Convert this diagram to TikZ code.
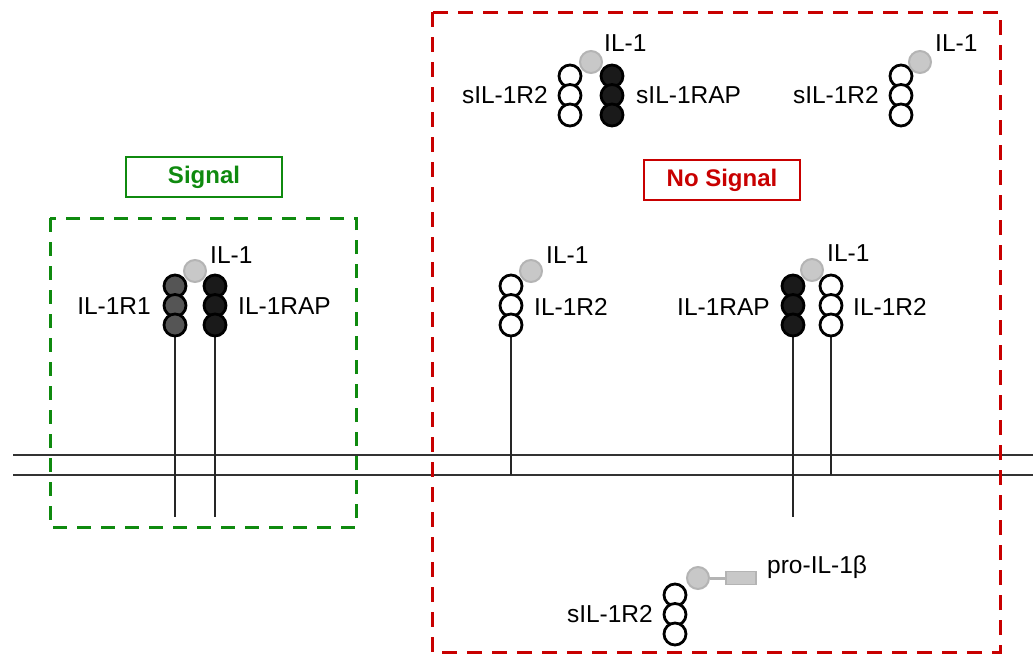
\documentclass[tikz,border=0pt]{standalone}
\usepackage{fontspec}
\setmainfont{Liberation Sans}

\definecolor{sigGreen}{HTML}{0F8A0F}
\definecolor{noRed}{HTML}{C80000}
\definecolor{domGray}{HTML}{555555}
\definecolor{domBlack}{HTML}{1A1A1A}
\definecolor{ligFill}{HTML}{C8C8C8}
\definecolor{ligEdge}{HTML}{B4B4B4}

\tikzset{
  dom/.style={circle, draw=black, line width=2.8pt, minimum size=22pt, inner sep=0pt},
  ligand/.style={circle, draw=ligEdge, fill=ligFill, line width=2pt, minimum size=22pt, inner sep=0pt},
  lbl/.style={font=\fontsize{24.5}{28}\selectfont, inner sep=0pt},
  stem/.style={line width=1.2pt, draw=black!85},
  membrane/.style={line width=1.4pt, draw=black!80},
  titlebox/.style={draw, line width=1.2pt, minimum width=156pt, minimum height=40pt,
    font=\fontsize{24}{28}\selectfont\bfseries},
}

% three domains stacked: name, x, y of top domain, fill
\newcommand{\receptor}[4]{%
  \node[dom, fill=#4] (#1a) at (#2,#3) {};
  \node[dom, fill=#4] (#1b) at (#2,#3+19.5) {};
  \node[dom, fill=#4] (#1c) at (#2,#3+39) {};
}

\begin{document}
\begin{tikzpicture}[x=1pt, y=-1pt]
\useasboundingbox (0,0) rectangle (1033,656);

% Membrana
\draw[membrane] (13,455) -- (1033,455);
\draw[membrane] (13,475) -- (1033,475);

% Cajas
\draw[sigGreen, line width=3pt, dash pattern=on 14pt off 10pt] (50,218) rectangle (356,527);
\draw[noRed, line width=3pt, dash pattern=on 15pt off 10pt] (432,12) rectangle (1000,652);
\node[titlebox, draw=sigGreen, text=sigGreen] (signal) at (204,177) {Signal};
\node[titlebox, draw=noRed, text=noRed] (nosignal) at (722,180) {No Signal};

% Complejo activo: IL-1R1 + IL-1RAP
\coordinate (r1end) at (175,517);
\coordinate (rapend) at (215,517);
\draw[stem] (175,337) -- (r1end);
\draw[stem] (215,337) -- (rapend);
\receptor{r1}{175}{286}{domGray}
\receptor{rap}{215}{286}{domBlack}
\node[ligand] (il1a) at (195,271) {};
\node[lbl, anchor=west] (il1alab) at (210,255) {IL-1};
\node[lbl, anchor=east] (r1lab) at (151,306) {IL-1R1};
\node[lbl, anchor=west] (raplab) at (238,306) {IL-1RAP};

% IL-1R2 de membrana
\coordinate (r2end) at (511,475);
\draw[stem] (511,337) -- (r2end);
\receptor{r2}{511}{286}{white}
\node[ligand] (il1b) at (531,271) {};
\node[lbl, anchor=west] (il1blab) at (546,255) {IL-1};
\node[lbl, anchor=west] (r2lab) at (534,307) {IL-1R2};

% IL-1RAP + IL-1R2
\coordinate (rapbend) at (793,517);
\coordinate (r2bend) at (831,475);
\draw[stem] (793,337) -- (rapbend);
\draw[stem] (831,337) -- (r2bend);
\receptor{rapb}{793}{286}{domBlack}
\receptor{r2b}{831}{286}{white}
\node[ligand] (il1c) at (812,270) {};
\node[lbl, anchor=west] (il1clab) at (827,253) {IL-1};
\node[lbl, anchor=east] (rapblab) at (770,307) {IL-1RAP};
\node[lbl, anchor=west] (r2blab) at (853,307) {IL-1R2};

% Formas solubles
\receptor{sr2}{570}{76}{white}
\receptor{srap}{612}{76}{domBlack}
\node[ligand] (il1d) at (591,62) {};
\node[lbl, anchor=west] (il1dlab) at (604,43) {IL-1};
\node[lbl, anchor=east] (sr2lab) at (548,95) {sIL-1R2};
\node[lbl, anchor=west] (sraplab) at (636,95) {sIL-1RAP};

\receptor{sr2b}{901}{76}{white}
\node[ligand] (il1e) at (920,62) {};
\node[lbl, anchor=west] (il1elab) at (935,43) {IL-1};
\node[lbl, anchor=east] (sr2blab) at (879,95) {sIL-1R2};

% pro-IL-1beta
\receptor{sr2c}{675}{595}{white}
\node[ligand] (proil) at (698,578) {};
\node[rectangle, draw=ligEdge, fill=ligFill, line width=1.5pt, minimum width=30pt, minimum height=13pt] (prodom) at (741,578) {};
\draw[ligEdge, line width=3pt] (proil) -- (prodom);
\node[lbl, anchor=west] (prolab) at (767,567) {pro-IL-1β};
\node[lbl, anchor=east] (sr2clab) at (653,614) {sIL-1R2};
\end{tikzpicture}
\end{document}
